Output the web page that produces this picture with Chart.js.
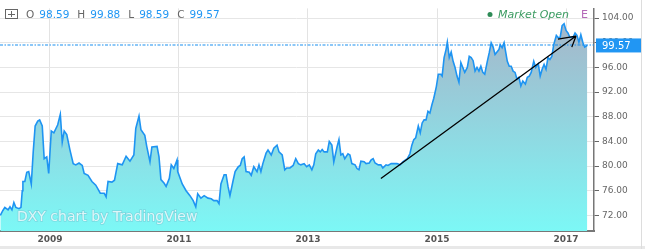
<!DOCTYPE html>
<html lang="en">
<head>
<meta charset="UTF-8">
<title>DXY</title>
<script src="https://cdn.jsdelivr.net/npm/chart.js@4.4.1/dist/chart.umd.min.js"></script>
<style>
  html, body { margin: 0; padding: 0; background: #fff; }
  #wrap { position: relative; width: 645px; height: 249px; }
</style>
</head>
<body>
<div id="wrap"><canvas id="dxy"></canvas></div>
<script>
// decimal years
const years = [
  2008.23, 2008.27, 2008.30, 2008.35, 2008.38, 2008.41, 2008.44, 2008.47, 2008.52, 2008.55,
  2008.57, 2008.58, 2008.61, 2008.64, 2008.67, 2008.71, 2008.74, 2008.77, 2008.81, 2008.84,
  2008.88, 2008.91, 2008.95, 2008.98, 2009.02, 2009.06, 2009.12, 2009.16, 2009.19, 2009.22,
  2009.26, 2009.31, 2009.36, 2009.40, 2009.45, 2009.50, 2009.53, 2009.59, 2009.65, 2009.71,
  2009.78, 2009.84, 2009.87, 2009.90, 2009.96, 2010.00, 2010.05, 2010.12, 2010.18, 2010.24,
  2010.30, 2010.33, 2010.38, 2010.41, 2010.47, 2010.50, 2010.55, 2010.58, 2010.66, 2010.69,
  2010.72, 2010.77, 2010.80, 2010.85, 2010.88, 2010.92, 2010.97, 2010.98, 2011.05, 2011.11,
  2011.17, 2011.22, 2011.26, 2011.29, 2011.34, 2011.39, 2011.45, 2011.50, 2011.54, 2011.59,
  2011.62, 2011.65, 2011.70, 2011.73, 2011.76, 2011.79, 2011.84, 2011.87, 2011.92, 2011.95,
  2011.98, 2012.01, 2012.04, 2012.09, 2012.12, 2012.16, 2012.21, 2012.24, 2012.27, 2012.30,
  2012.35, 2012.38, 2012.43, 2012.47, 2012.52, 2012.55, 2012.60, 2012.64, 2012.67, 2012.72,
  2012.77, 2012.81, 2012.85, 2012.89, 2012.94, 2012.98, 2013.02, 2013.06, 2013.09, 2013.12,
  2013.16, 2013.19, 2013.22, 2013.25, 2013.30, 2013.33, 2013.37, 2013.40, 2013.45, 2013.48,
  2013.51, 2013.54, 2013.57, 2013.62, 2013.65, 2013.68, 2013.73, 2013.76, 2013.79, 2013.82,
  2013.87, 2013.90, 2013.95, 2013.98, 2014.01, 2014.04, 2014.09, 2014.13, 2014.16, 2014.21,
  2014.24, 2014.29, 2014.33, 2014.38, 2014.43, 2014.47, 2014.54, 2014.58, 2014.61, 2014.64,
  2014.67, 2014.71, 2014.74, 2014.77, 2014.80, 2014.83, 2014.86, 2014.89, 2014.92, 2014.95,
  2014.99, 2015.02, 2015.06, 2015.08, 2015.11, 2015.14, 2015.16, 2015.19, 2015.22, 2015.25,
  2015.28, 2015.31, 2015.34, 2015.37, 2015.40, 2015.43, 2015.47, 2015.50, 2015.53, 2015.56,
  2015.59, 2015.62, 2015.65, 2015.68, 2015.71, 2015.74, 2015.78, 2015.81, 2015.84, 2015.87,
  2015.90, 2015.93, 2015.96, 2015.98, 2016.01, 2016.04, 2016.09, 2016.12, 2016.15, 2016.18,
  2016.21, 2016.24, 2016.27, 2016.30, 2016.33, 2016.37, 2016.40, 2016.43, 2016.46, 2016.50,
  2016.53, 2016.57, 2016.60, 2016.63, 2016.66, 2016.69, 2016.72, 2016.75, 2016.78, 2016.81,
  2016.85, 2016.88, 2016.91, 2016.94, 2016.97, 2017.00, 2017.03, 2017.06, 2017.11, 2017.14,
  2017.17, 2017.20, 2017.23, 2017.26, 2017.29, 2017.33
];
const dxy = [
  72.0, 72.8, 73.3, 72.9, 73.4, 72.9, 74.1, 73.3, 73.1, 73.3,
  76.0, 77.5, 77.5, 79.0, 79.1, 77.1, 82.3, 86.5, 87.3, 87.5,
  86.5, 81.2, 81.5, 78.8, 85.7, 85.4, 86.7, 88.4, 83.9, 85.7,
  85.1, 82.6, 80.4, 80.2, 80.5, 80.1, 78.8, 78.5, 77.5, 76.9,
  75.6, 75.6, 75.0, 77.5, 77.4, 77.7, 80.4, 80.2, 81.6, 80.8,
  81.8, 86.1, 88.1, 85.9, 85.0, 83.2, 80.7, 83.1, 83.2, 81.5,
  77.8, 77.2, 76.7, 78.0, 80.2, 79.6, 81.0, 79.1, 77.1, 76.0,
  75.2, 74.4, 73.4, 75.5, 74.8, 75.2, 74.8, 74.7, 74.4, 74.4,
  73.9, 77.1, 78.6, 78.6, 76.7, 75.2, 77.7, 79.1, 79.9, 80.1,
  81.2, 81.5, 79.1, 79.0, 78.5, 79.9, 79.1, 80.2, 79.1, 80.4,
  82.1, 82.6, 81.8, 82.9, 83.4, 82.3, 81.8, 79.4, 79.7, 79.7,
  80.1, 81.2, 80.4, 80.2, 80.4, 79.9, 80.2, 79.4, 80.2, 82.0,
  82.6, 82.3, 82.7, 82.3, 82.3, 84.0, 83.4, 80.7, 83.1, 84.3,
  81.8, 82.0, 81.2, 82.0, 81.8, 80.4, 80.2, 79.6, 79.4, 80.8,
  80.7, 80.4, 80.5, 81.0, 81.2, 80.5, 80.2, 80.2, 79.7, 80.2,
  80.1, 80.4, 80.4, 80.4, 80.2, 80.7, 81.2, 82.0, 83.4, 84.3,
  84.6, 86.5, 85.4, 87.0, 87.5, 87.5, 88.9, 88.6, 89.9, 91.0,
  92.9, 94.9, 94.9, 94.6, 97.6, 98.9, 100.1, 97.6, 98.5, 97.0,
  96.0, 94.6, 93.6, 96.8, 96.0, 95.2, 96.0, 97.8, 97.6, 97.1,
  95.4, 96.0, 95.4, 96.2, 95.2, 94.9, 97.0, 98.4, 100.0, 99.3,
  98.1, 98.5, 98.9, 99.7, 99.2, 100.0, 97.0, 96.2, 96.2, 95.4,
  95.2, 94.1, 94.4, 93.0, 93.8, 93.3, 94.4, 94.6, 95.2, 97.0,
  96.0, 96.6, 94.6, 95.7, 96.5, 95.7, 97.6, 97.3, 97.8, 99.7,
  101.2, 100.8, 100.9, 102.8, 103.1, 102.0, 101.6, 100.9, 100.9, 101.6,
  101.2, 100.1, 101.3, 100.1, 99.3, 99.57
];
const yearTicks = [2009, 2011, 2013, 2015, 2017];
const priceTicks = [72, 76, 80, 84, 88, 92, 96, 100, 104];
const ohlcNames = ['O', 'H', 'L', 'C'];
const ohlcValues = [98.59, 99.88, 98.59, 99.57];
const lastPrice = 99.57;
// drawn trend arrow: tail, tip, two barbs (year, value)
const arrowLine = [[2014.13, 78.0], [2017.155, 101.1]];
const arrowBarbs = [[2016.876, 100.6], [2017.09, 99.3]];

const blue = '#2196f3';

const overlay = {
  id: 'overlay',
  afterDatasetsDraw(chart) {
    const ctx = chart.ctx, a = chart.chartArea;
    const xs = chart.scales.x, ys = chart.scales.y;
    ctx.save();
    // watermark
    ctx.font = '14px "DejaVu Sans"';
    ctx.textBaseline = 'alphabetic';
    ctx.lineWidth = 1.5;
    ctx.strokeStyle = 'rgba(110,170,190,0.35)';
    ctx.strokeText('DXY chart by TradingView', 17, 221);
    ctx.fillStyle = 'rgba(240,252,253,0.85)';
    ctx.fillText('DXY chart by TradingView', 17, 221);
    // last price dotted line
    const py = Math.round(ys.getPixelForValue(lastPrice));
    ctx.strokeStyle = '#1a8ff0';
    ctx.lineWidth = 1.2;
    ctx.setLineDash([3, 1.5, 1.5, 1.5]);
    ctx.beginPath();
    ctx.moveTo(a.left, py);
    ctx.lineTo(a.right, py);
    ctx.stroke();
    ctx.setLineDash([]);
    // arrow
    const p = (v) => [xs.getPixelForValue(v[0]), ys.getPixelForValue(v[1])];
    const t0 = p(arrowLine[0]), t1 = p(arrowLine[1]);
    ctx.strokeStyle = '#000';
    ctx.lineWidth = 1.3;
    ctx.beginPath();
    ctx.moveTo(t0[0], t0[1]);
    ctx.lineTo(t1[0], t1[1]);
    arrowBarbs.forEach(b => {
      const q = p(b);
      ctx.moveTo(t1[0], t1[1]);
      ctx.lineTo(q[0], q[1]);
    });
    ctx.stroke();
    ctx.restore();
  },
  afterDraw(chart) {
    const ctx = chart.ctx, a = chart.chartArea;
    const ys = chart.scales.y;
    ctx.save();
    // header OHLC
    ctx.strokeStyle = '#666';
    ctx.lineWidth = 1;
    ctx.strokeRect(5.5, 9.5, 12, 9);
    ctx.beginPath();
    ctx.moveTo(11.5, 11); ctx.lineTo(11.5, 17);
    ctx.moveTo(8, 14.5); ctx.lineTo(15, 14.5);
    ctx.stroke();
    ctx.font = '10.5px "DejaVu Sans"';
    ctx.textBaseline = 'middle';
    let x = 26;
    ohlcNames.forEach((n, i) => {
      ctx.fillStyle = '#666';
      ctx.fillText(n, x, 15);
      x += ctx.measureText(n).width + 5;
      ctx.fillStyle = blue;
      const s = ohlcValues[i].toFixed(2);
      ctx.fillText(s, x, 15);
      x += ctx.measureText(s).width + 8;
    });
    // market status
    ctx.fillStyle = '#2e8b57';
    ctx.beginPath();
    ctx.arc(490, 14.5, 2.5, 0, Math.PI * 2);
    ctx.fill();
    ctx.font = 'italic 11px "DejaVu Sans"';
    ctx.fillStyle = '#3a9a60';
    ctx.fillText('Market Open', 498, 15);
    ctx.fillStyle = '#b469b8';
    ctx.font = '11px "DejaVu Sans"';
    ctx.fillText('E', 581, 15);
    // price label on axis
    const py = ys.getPixelForValue(lastPrice);
    ctx.fillStyle = blue;
    ctx.fillRect(a.right + 2, py - 7, 46, 14);
    ctx.fillStyle = '#fff';
    ctx.font = '10px "DejaVu Sans"';
    ctx.fillText(lastPrice.toFixed(2), a.right + 8, py + 0.5);
    // frame
    ctx.fillStyle = '#e8e8e8';
    ctx.fillRect(0, 246, 645, 3);
    ctx.strokeStyle = '#dddddd';
    ctx.beginPath();
    ctx.moveTo(641.5, 0); ctx.lineTo(641.5, 249);
    ctx.stroke();
    ctx.restore();
  }
};

const ctx = document.getElementById('dxy').getContext('2d');
new Chart(ctx, {
  type: 'line',
  data: {
    datasets: [{
      data: years.map((y, i) => ({ x: y, y: dxy[i] })),
      borderColor: '#1e94f2',
      borderWidth: 1.6,
      pointRadius: 0,
      tension: 0,
      fill: 'start',
      backgroundColor: (c) => {
        const a = c.chart.chartArea;
        if (!a) return '#8fe';
        const g = c.chart.ctx.createLinearGradient(0, a.top, 0, a.bottom);
        g.addColorStop(0, '#a8b2c6');
        g.addColorStop(0.45, '#95d0dc');
        g.addColorStop(1, '#7cf8f6');
        return g;
      }
    }]
  },
  options: {
    responsive: true,
    maintainAspectRatio: false,
    animation: false,
    layout: { padding: { top: 2, left: 0, right: 0, bottom: 0 } },
    plugins: { legend: { display: false }, tooltip: { enabled: false } },
    scales: {
      x: {
        type: 'linear',
        min: 2008.225,
        max: 2017.434,
        afterBuildTicks: (s) => { s.ticks = yearTicks.map(v => ({ value: v })); },
        afterFit: (s) => { s.height = 18; },
        ticks: {
          callback: (v) => String(v),
          color: '#555',
          font: { family: 'DejaVu Sans', size: 9, weight: 'bold' },
          padding: 3,
          maxRotation: 0
        },
        grid: { color: '#e3e3e3', drawTicks: false },
        border: { color: '#777', width: 2 }
      },
      y: {
        position: 'right',
        min: 69.47,
        max: 105.58,
        afterBuildTicks: (s) => { s.ticks = priceTicks.map(v => ({ value: v })); },
        afterFit: (s) => { s.width = 51; },
        ticks: {
          callback: (v) => v.toFixed(2),
          color: '#666',
          font: { family: 'DejaVu Sans', size: 9 },
          padding: 3
        },
        grid: { color: '#e6e6e6', tickColor: '#666', tickLength: 5 },
        border: { color: '#777', width: 1.5 }
      }
    }
  },
  plugins: [overlay]
});
</script>
</body>
</html>
